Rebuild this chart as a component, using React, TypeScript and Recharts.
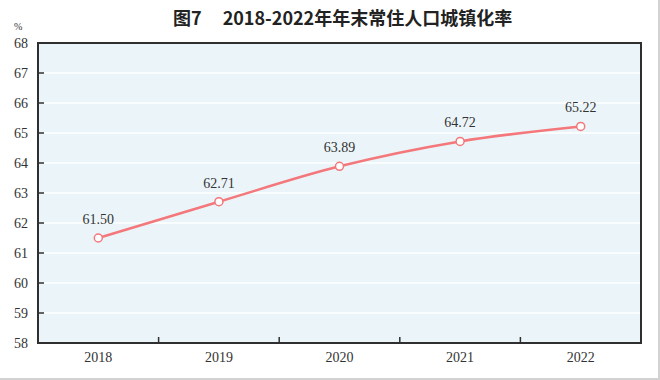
import { CartesianGrid, LabelList, Line, LineChart, XAxis, YAxis, usePlotArea } from "recharts";

const years = ["2018", "2019", "2020", "2021", "2022"];
const urbanRate = [61.5, 62.71, 63.89, 64.72, 65.22];
const yTicks = [58, 59, 60, 61, 62, 63, 64, 65, 66, 67, 68];

const colors = {
  line: "#f3777b",
  plotBg: "#ebf5f9",
  grid: "#ffffff",
  frame: "#2f2f2f",
  text: "#333333",
};

const serif = "'Liberation Serif', 'DejaVu Serif', serif";

const data = years.map((year, i) => ({ year, rate: urbanRate[i] }));

const yMin = yTicks[0];
const yMax = yTicks[yTicks.length - 1];

// border round the plot, inward y ticks, and tick marks between the year bands
const PlotFrame = () => {
  const area = usePlotArea();
  if (!area) return null;
  const { x, y, width, height } = area;
  const step = width / years.length;
  const inner = yTicks.slice(1, -1);
  return (
    <g>
      <rect x={x} y={y} width={width} height={height} fill="none" stroke={colors.frame} strokeWidth={2} />
      {inner.map((v) => {
        const ty = y + height * (1 - (v - yMin) / (yMax - yMin));
        return <line key={v} x1={x} x2={x + 6} y1={ty} y2={ty} stroke={colors.frame} strokeWidth={1.5} />;
      })}
      {years.slice(1).map((_, i) => (
        <line
          key={i}
          x1={x + step * (i + 1)}
          x2={x + step * (i + 1)}
          y1={y + height}
          y2={y + height - 6}
          stroke={colors.frame}
          strokeWidth={1.5}
        />
      ))}
    </g>
  );
};

export default function App() {
  return (
    <div
      style={{
        position: "absolute",
        left: 0,
        top: 0,
        width: 658,
        height: 378,
        borderRight: "2px solid #d2d2d2",
        borderBottom: "2px solid #d2d2d2",
        background: "#fff",
      }}
    >
      <div
        style={{
          position: "absolute",
          top: 4,
          left: 173,
          fontFamily: "'Noto Sans CJK SC', sans-serif",
          fontWeight: 700,
          fontSize: 18,
          color: "#222",
          whiteSpace: "nowrap",
        }}
      >
        <span>图7</span>
        <span style={{ marginLeft: 21 }}>2018-2022年年末常住人口城镇化率</span>
      </div>
      <div
        style={{
          position: "absolute",
          top: 21,
          left: 14,
          fontFamily: serif,
          fontSize: 10,
          color: colors.text,
        }}
      >
        %
      </div>
      <LineChart width={660} height={380} data={data} margin={{ top: 43, right: 19, left: 0, bottom: 0 }}>
        <CartesianGrid vertical={false} fill={colors.plotBg} stroke={colors.grid} strokeWidth={1.5} />
        <XAxis
          dataKey="year"
          scale="band"
          height={37}
          tickLine={false}
          tickSize={0}
          tickMargin={9}
          axisLine={false}
          tick={{ fontFamily: serif, fontSize: 14, fill: colors.text }}
        />
        <YAxis
          width={38}
          domain={[yMin, yMax]}
          ticks={yTicks}
          interval={0}
          tickLine={false}
          tickSize={0}
          tickMargin={10}
          axisLine={false}
          tick={{ fontFamily: serif, fontSize: 14, fill: colors.text }}
        />
        <PlotFrame />
        <Line
          dataKey="rate"
          type="monotone"
          stroke={colors.line}
          strokeWidth={2.5}
          dot={{ r: 4, fill: "#fff", stroke: colors.line, strokeWidth: 1.5 }}
          activeDot={false}
          isAnimationActive={false}
        >
          <LabelList
            dataKey="rate"
            position="top"
            offset={14}
            formatter={(v: any) => Number(v).toFixed(2)}
            style={{ fontFamily: serif, fontSize: 14, fill: colors.text }}
          />
        </Line>
      </LineChart>
    </div>
  );
}
